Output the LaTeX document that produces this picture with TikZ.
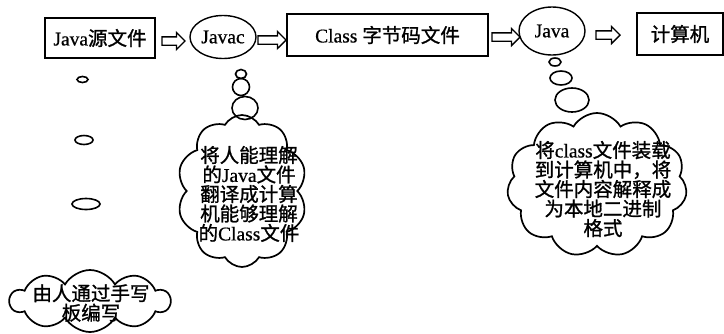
\documentclass[tikz,border=0pt]{standalone}
\usepackage{fontspec}
\setmainfont[FakeBold=0.6]{Liberation Serif}
\newfontfamily\cjk[FakeBold=1.2]{Noto Sans CJK SC}
\newcommand\zh[1]{{\cjk #1}}
\usetikzlibrary{shapes.geometric,shapes.symbols,shapes.arrows}
\begin{document}
\begin{tikzpicture}[x=1pt,y=-1pt,line width=1.4pt,
  box/.style={draw,rectangle,inner sep=0pt,font=\fontsize{19.5}{20}\selectfont},
  oval/.style={draw,ellipse,inner sep=0pt,font=\fontsize{19.5}{20}\selectfont},
  blockarrow/.style={draw,single arrow,single arrow head extend=4.5pt,inner xsep=0pt,inner ysep=3.5pt,minimum height=24pt,line width=1.3pt},
  bubble/.style={draw,ellipse,inner sep=0pt,line width=1.6pt},
  thought/.style={draw,cloud,cloud puffs=11,cloud puff arc=120,cloud ignores aspect,inner sep=0pt,line width=1.7pt},
  cloudtext/.style={align=center,inner sep=0pt,font=\fontsize{19.5}{19.5}\selectfont}]
\useasboundingbox (0,0) rectangle (724,333);

% top row
\node[box,minimum width=110pt,minimum height=40pt] (src) at (100,38) {Java\zh{源文件}};
\node[blockarrow,minimum height=23pt] (a1) at (171.5,41) {};
\node[oval,minimum width=66pt,minimum height=43pt] (javac) at (223,37) {Javac};
\node[blockarrow,minimum height=28pt] (a2) at (270,40) {};
\node[box,minimum width=201pt,minimum height=42pt] (cls) at (387.5,35) {Class \zh{字节码文件}};
\node[blockarrow,minimum height=28pt] (a3) at (504,37) {};
\node[oval,minimum width=66pt,minimum height=48pt] (java) at (552,31) {Java};
\node[blockarrow,minimum height=24pt] (a4) at (606,35) {};
\node[box,minimum width=86pt,minimum height=42pt] (pc) at (680,34) {\zh{计算机}};

% left thought chain
\node[bubble,minimum width=11pt,minimum height=6pt] (l1) at (82.5,79.5) {};
\node[bubble,minimum width=18pt,minimum height=9pt] (l2) at (84,140) {};
\node[bubble,minimum width=28pt,minimum height=11pt] (l3) at (86,204) {};
\node[thought,cloud puffs=10,minimum width=160pt,minimum height=62pt] (c0) at (90,301) {};
\node[cloudtext] (t0) at (91,303) {\zh{由人通过手写}\\\zh{板编写}};

% javac thought chain
\node[bubble,minimum width=11pt,minimum height=9pt] (j1) at (241,74) {};
\node[bubble,minimum width=17pt,minimum height=17pt] (j2) at (241,87) {};
\node[bubble,minimum width=26pt,minimum height=23pt] (j3) at (245,108) {};
\node[thought,cloud puffs=10,minimum width=130pt,minimum height=152pt] (c1) at (242,191) {};
\node[cloudtext] (t1) at (249,194) {\zh{将人能理解}\\\zh{的}Java\zh{文件}\\\zh{翻译成计算}\\\zh{机能够理解}\\\zh{的}Class\zh{文件}};

% java thought chain
\node[bubble,minimum width=12pt,minimum height=8pt] (k1) at (555,62) {};
\node[bubble,minimum width=22pt,minimum height=14pt] (k2) at (561,78) {};
\node[bubble,minimum width=34pt,minimum height=24pt] (k3) at (572,100) {};
\node[thought,minimum width=180pt,minimum height=144pt] (c2) at (597,185) {};
\node[cloudtext] (t2) at (603,189) {\zh{将}class\zh{文件装载}\\\zh{到计算机中，将}\\\zh{文件内容解释成}\\\zh{为本地二进制}\\\zh{格式}};
\end{tikzpicture}
\end{document}
